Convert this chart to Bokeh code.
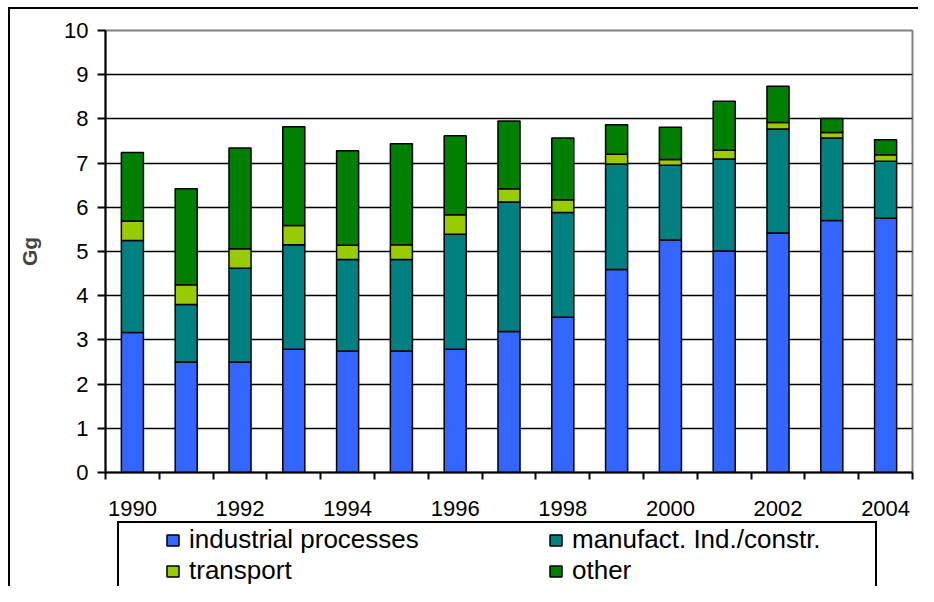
from bokeh.plotting import figure
from bokeh.layouts import column
from bokeh.models import FixedTicker, Legend, LegendItem, ColumnDataSource
from bokeh.embed import file_html
from bokeh.resources import INLINE

# ---- data ----
years = [1990, 1991, 1992, 1993, 1994, 1995, 1996, 1997, 1998, 1999, 2000, 2001, 2002, 2003, 2004]
industrial = [3.17, 2.50, 2.50, 2.79, 2.75, 2.75, 2.79, 3.19, 3.51, 4.59, 5.26, 5.01, 5.42, 5.70, 5.75]
manufact = [2.08, 1.30, 2.12, 2.36, 2.07, 2.07, 2.60, 2.93, 2.37, 2.39, 1.69, 2.08, 2.35, 1.87, 1.29]
transport = [0.44, 0.45, 0.44, 0.44, 0.32, 0.33, 0.44, 0.30, 0.29, 0.22, 0.13, 0.20, 0.15, 0.12, 0.15]
other = [1.55, 2.17, 2.28, 2.23, 2.14, 2.29, 1.79, 1.53, 1.40, 0.67, 0.73, 1.11, 0.82, 0.32, 0.34]

series_keys = ["industrial", "manufact", "transport", "other"]
series_names = ["industrial processes", "manufact. Ind./constr.", "transport", "other"]
series_colors = ["#3366FF", "#008080", "#99CC00", "#008000"]

x_tick_years = [1990, 1992, 1994, 1996, 1998, 2000, 2002, 2004]
y_ticks = [0, 1, 2, 3, 4, 5, 6, 7, 8, 9, 10]
y_grid_ticks = [1, 2, 3, 4, 5, 6, 7, 8, 9]
y_label = "Gg"

FONT = "Liberation Sans"


def css_lines(lines):
    """Thin black rules painted behind a transparent canvas border (chart/legend boxes)."""
    return {
        "background-image": ", ".join(["linear-gradient(#000, #000)"] * len(lines)),
        "background-position": ", ".join(f"{x}px {y}px" for x, y, w, h in lines),
        "background-size": ", ".join(f"{w}px {h}px" for x, y, w, h in lines),
        "background-repeat": "no-repeat",
    }


src = ColumnDataSource(dict(year=years, industrial=industrial, manufact=manufact,
                            transport=transport, other=other))

W = 918
H_MAIN = 520
H_LEG = 66

# ---------------- main chart ----------------
p = figure(width=W, height=H_MAIN, x_range=(years[0] - 0.5, years[-1] + 0.5), y_range=(0, 10),
           output_backend="svg", toolbar_location=None,
           min_border_left=105, min_border_right=6, min_border_top=30, min_border_bottom=48)

p.background_fill_color = "white"
p.border_fill_color = None
p.outline_line_color = "#808080"
p.outline_line_width = 2
p.styles = css_lines([(8, 7, W - 8, 2), (8, 7, 2, H_MAIN - 7)])

renderers = p.vbar_stack(series_keys, x="year", width=0.41, source=src,
                         fill_color=series_colors, line_color="black", line_width=1.5)

# x axis
boundaries = [y - 0.5 for y in years] + [years[-1] + 0.5]
p.xaxis.ticker = FixedTicker(ticks=x_tick_years, minor_ticks=boundaries)
p.xaxis.major_label_overrides = {y: str(y) for y in x_tick_years}
p.xaxis.major_tick_out = 0
p.xaxis.major_tick_in = 0
p.xaxis.minor_tick_out = 7
p.xaxis.minor_tick_in = 0
p.xaxis.minor_tick_line_color = "black"
p.xaxis.minor_tick_line_width = 2
p.xaxis.major_label_standoff = 21

# y axis
p.yaxis.ticker = FixedTicker(ticks=y_ticks, minor_ticks=[])
p.yaxis.major_tick_out = 8
p.yaxis.major_tick_in = 0
p.yaxis.major_tick_line_width = 2
p.yaxis.major_tick_line_color = "black"
p.yaxis.major_label_standoff = 9
p.yaxis.axis_label = y_label
p.yaxis.axis_label_text_font = FONT
p.yaxis.axis_label_text_font_style = "bold"
p.yaxis.axis_label_text_font_size = "21px"
p.yaxis.axis_label_standoff = 20

for ax in (p.xaxis, p.yaxis):
    ax.axis_line_color = "black"
    ax.axis_line_width = 2
    ax.major_label_text_font = FONT
    ax.major_label_text_font_size = "22px"
    ax.major_label_text_color = "black"

# grid
p.xgrid.visible = False
p.ygrid.ticker = FixedTicker(ticks=y_grid_ticks)
p.ygrid.grid_line_color = "black"
p.ygrid.grid_line_width = 1.5

# ---------------- legend strip ----------------
# (its frame is aligned by the column layout with the chart frame: x 105..912)
pl = figure(width=W, height=H_LEG, x_range=(0, 1), y_range=(0, 1),
            x_axis_type=None, y_axis_type=None,
            output_backend="svg", toolbar_location=None,
            min_border_left=0, min_border_right=0, min_border_top=0, min_border_bottom=0)
pl.outline_line_color = None
pl.outline_line_alpha = 0
pl.background_fill_color = None
pl.background_fill_alpha = 0
pl.border_fill_color = None
pl.border_fill_alpha = 0
pl.styles = css_lines([(8, 0, 2, H_LEG),          # chart border, left
                       (117, 1, 760, 2),          # legend box top
                       (117, 1, 2, H_LEG - 1),    # legend box left
                       (875, 1, 2, H_LEG - 1)])   # legend box right

# legend swatches: same series styles, hidden renderers (only the legend shows them)
swatches = [pl.vbar(x="year", top=k, width=0.41, source=src, fill_color=c,
                    line_color="black", line_width=1.5, visible=False)
            for k, c in zip(series_keys, series_colors)]

legend_style = dict(orientation="horizontal", glyph_width=15, glyph_height=14,
                    label_standoff=9, label_width=250, label_height=26, spacing=109,
                    padding=0, margin=0, label_text_font=FONT, label_text_font_size="26px",
                    label_text_color="black", border_line_alpha=0, background_fill_alpha=0,
                    inactive_fill_alpha=0)
row1 = Legend(items=[LegendItem(label=series_names[0], renderers=[swatches[0]]),
                     LegendItem(label=series_names[1], renderers=[swatches[1]])],
              location=(60, 31), **legend_style)
row2 = Legend(items=[LegendItem(label=series_names[2], renderers=[swatches[2]]),
                     LegendItem(label=series_names[3], renderers=[swatches[3]])],
              location=(60, 0), **legend_style)
pl.add_layout(row1, "center")
pl.add_layout(row2, "center")

layout = column(p, pl, spacing=0)
open("out.html", "w").write(file_html(layout, INLINE))
